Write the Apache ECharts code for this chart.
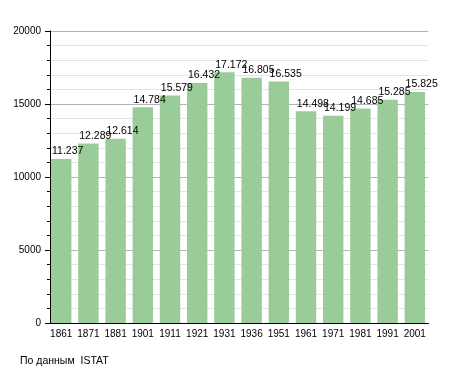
<!DOCTYPE html>
<html>
<head>
<meta charset="utf-8">
<script src="https://cdn.jsdelivr.net/npm/echarts@6/dist/echarts.min.js"></script>
<style>
html,body{margin:0;padding:0;background:#fff;}
#c{width:455px;height:373px;}
</style>
</head>
<body>
<div id="c"></div>
<script>
const categories = ['1861','1871','1881','1901','1911','1921','1931','1936','1951','1961','1971','1981','1991','2001'];
const population = [11237,12289,12614,14784,15579,16432,17172,16805,16535,14498,14199,14685,15285,15825];
const yTicks = [0,5000,10000,15000,20000];
const sourceText = 'По данным  ISTAT';

const FONT = 'Liberation Sans, Arial, sans-serif';
const chart = echarts.init(document.getElementById('c'), null, {renderer:'canvas'});
function fmt(v){ return String(v).replace(/\B(?=(\d{3})+(?!\d))/g,'.'); }
chart.setOption({
  animation:false,
  backgroundColor:'#fff',
  grid:{left:47.6, top:31, width:380.8, height:292, containLabel:false},
  graphic:[{type:'text', left:20, top:356, style:{text:sourceText, font:'10.5px '+FONT, fill:'#000'}}],
  xAxis:{
    type:'category', data:categories,
    axisLine:{show:true, lineStyle:{color:'#000', width:1}},
    axisTick:{show:false},
    axisLabel:{color:'#000', fontSize:10, fontFamily:FONT, margin:6, interval:0},
    splitLine:{show:false}
  },
  yAxis:{
    type:'value', min:yTicks[0], max:yTicks[yTicks.length-1], interval:5000, offset:-2.4,
    axisLine:{show:true, lineStyle:{color:'#000', width:1}},
    axisTick:{show:true, length:5, lineStyle:{color:'#000'}},
    minorTick:{show:true, splitNumber:5, length:3, lineStyle:{color:'#000'}},
    axisLabel:{color:'#000', fontSize:10, fontFamily:FONT, margin:9, formatter:v=>String(v)},
    splitLine:{show:true, lineStyle:{color:'#b4b4b4', width:1}},
    minorSplitLine:{show:true, lineStyle:{color:'#e4e4e4', width:1}}
  },
  series:[{
    type:'bar', data:population, barWidth:20.4,
    itemStyle:{color:'#99cc99'},
    label:{show:true, position:[1,-2], align:'left', verticalAlign:'bottom',
      color:'#000', fontSize:10.5, fontFamily:FONT,
      formatter:p=>fmt(p.value)}
  }]
});
</script>
</body>
</html>
